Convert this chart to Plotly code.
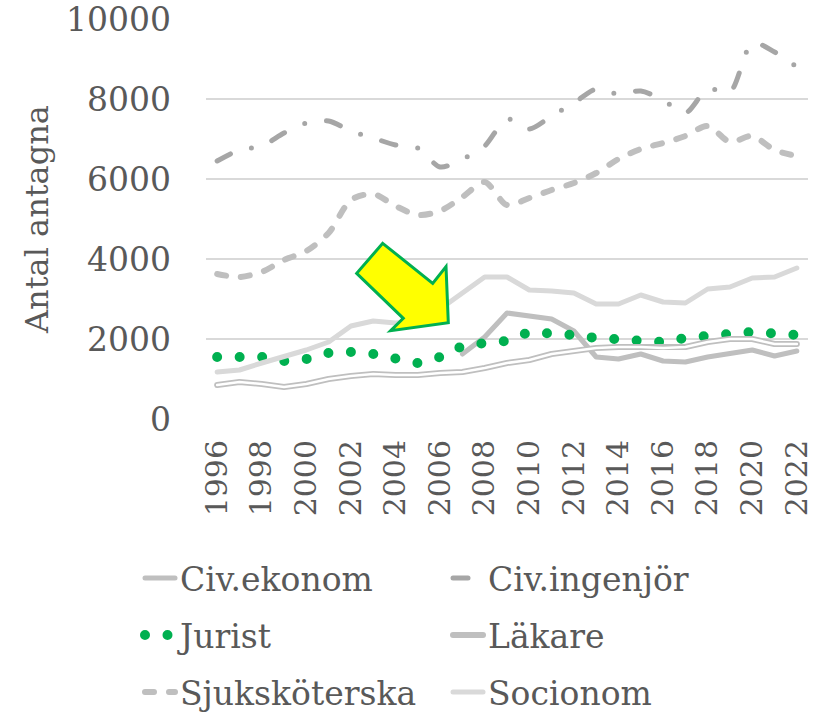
import plotly.graph_objects as go

years = list(range(1996, 2023))
tick_years = years[::2]
y_ticks = [0, 2000, 4000, 6000, 8000, 10000]

civ_ekonom = [None] * 11 + [1625, 2050, 2650, 2575, 2500, 2200, 1550, 1500, 1625, 1450, 1425, 1550, 1650, 1725, 1575, 1700]
civ_ingenjor = [6450, 6725, 6825, 7150, 7400, 7450, 7200, 7025, 6850, 6775, 6300, 6500, 6825, 7500, 7250, 7575,
                7900, 8250, 8125, 8200, 7975, 7650, 8250, 8175, 9400, 9175, 8800]
jurist = [1550, 1525, 1550, 1450, 1500, 1650, 1675, 1625, 1525, 1400, 1550, 1825, 1900, 1950, 2175, 2150,
          2100, 2025, 2000, 2000, 1925, 2025, 2100, 2125, 2175, 2125, 2100]
lakare = [850, 925, 875, 800, 875, 1000, 1075, 1125, 1100, 1100, 1150, 1175, 1275, 1400, 1475, 1625,
          1700, 1775, 1800, 1800, 1775, 1800, 1925, 2000, 2000, 1875, 1875]
sjukskoterska = [3625, 3550, 3675, 3975, 4200, 4650, 5475, 5625, 5325, 5100, 5200, 5550, 5925, 5350, 5525, 5725,
                 5900, 6150, 6500, 6750, 6900, 7075, 7325, 6925, 7075, 6725, 6575]
socionom = [1175, 1225, 1400, 1550, 1725, 1925, 2325, 2450, 2400, 2450, 2750, 3150, 3550, 3550, 3225, 3200,
            3150, 2875, 2875, 3100, 2925, 2900, 3250, 3300, 3525, 3550, 3775]

FONT = "DejaVu Serif, Georgia, serif"
TXT = "#595959"

fig = go.Figure()
fig.add_trace(go.Scatter(x=years, y=civ_ekonom, name="Civ.ekonom", mode="lines", legend="legend",
                         line=dict(color="#bfbfbf", width=5)))
fig.add_trace(go.Scatter(x=years, y=civ_ingenjor, name="Civ.ingenjör", mode="lines", legend="legend",
                         line=dict(color="#a6a6a6", width=5, dash="15px,22px,0px,22px", shape="spline", smoothing=0.8)))
fig.add_trace(go.Scatter(x=years, y=jurist, name="Jurist", mode="lines", legend="legend2",
                         line=dict(color="#00b050", width=10, dash="0px,22.5px")))
fig.add_trace(go.Scatter(x=years, y=lakare, name="Läkare", mode="lines", legend="legend2",
                         line=dict(color="#bfbfbf", width=6)))
fig.add_trace(go.Scatter(x=years, y=lakare, name="Läkare", mode="lines", showlegend=False,
                         line=dict(color="#ffffff", width=2.5)))
fig.add_trace(go.Scatter(x=years, y=sjukskoterska, name="Sjuksköterska", mode="lines", legend="legend3",
                         line=dict(color="#bfbfbf", width=6, dash="9px,15px", shape="spline", smoothing=0.8)))
fig.add_trace(go.Scatter(x=years, y=socionom, name="Socionom", mode="lines", legend="legend3",
                         line=dict(color="#d9d9d9", width=5)))

# Plot-area pixel frame
L, R, T, B = 206, 808, 19, 419
arrow_px = [(382.7, 243.3), (432.7, 283.3), (446, 266.7), (448.3, 322.7),
            (390.7, 330.7), (403.3, 318.3), (356.7, 273.3)]


def to_paper(p):
    return ((p[0] - L) / (R - L), (B - p[1]) / (B - T))


pts = [to_paper(p) for p in arrow_px]
path = "M " + " L ".join(f"{x:.4f},{y:.4f}" for x, y in pts) + " Z"
fig.add_shape(type="path", path=path, xref="paper", yref="paper",
              fillcolor="#ffff00", line=dict(color="#00b050", width=3), layer="above")

fig.add_annotation(text="Antal antagna", textangle=-90, xref="paper", yref="paper",
                   x=to_paper((37, 0))[0], y=to_paper((0, 220))[1], showarrow=False,
                   xanchor="center", yanchor="middle",
                   font=dict(family=FONT, size=32, color=TXT))

leg_x = to_paper((140, 0))[0]
legend_common = dict(orientation="h", x=leg_x, xanchor="left", yanchor="middle",
                     font=dict(family=FONT, size=33, color=TXT),
                     entrywidth=263, entrywidthmode="pixels", bgcolor="rgba(0,0,0,0)")

fig.update_layout(
    width=814, height=716,
    margin=dict(l=L, r=814 - R, t=T, b=716 - B, autoexpand=False),
    paper_bgcolor="white", plot_bgcolor="white",
    font=dict(family=FONT, color=TXT, size=32),
    showlegend=True,
    legend=dict(y=to_paper((0, 578))[1], **legend_common),
    legend2=dict(y=to_paper((0, 635))[1], **legend_common),
    legend3=dict(y=to_paper((0, 692))[1], **legend_common),
)
fig.update_xaxes(range=[1995.5, 2022.5], tickmode="array", tickvals=tick_years,
                 ticktext=[str(y) for y in tick_years], tickangle=-90, automargin=False,
                 showgrid=False, zeroline=False, showline=False, ticklabeloverflow="allow",
                 ticklabelstandoff=14, tickfont=dict(family=FONT, size=30, color=TXT))
fig.update_yaxes(range=[0, 10000], tickmode="array", tickvals=y_ticks,
                 ticktext=[str(v) for v in y_ticks], automargin=False, ticklabeloverflow="allow",
                 showgrid=True, gridcolor="#d9d9d9", gridwidth=1.5, zeroline=False, showline=False,
                 ticklabelstandoff=34, tickfont=dict(family=FONT, size=33, color=TXT))

post = ("document.body.style.margin='0';document.body.style.overflow='hidden';"
        "var s=document.createElement('style');"
        "s.innerHTML='body{margin:0}.js-line{stroke-linecap:round;stroke-linejoin:round}';"
        "document.head.appendChild(s);")
fig.write_html("out.html", post_script=post, config={"displayModeBar": False})
